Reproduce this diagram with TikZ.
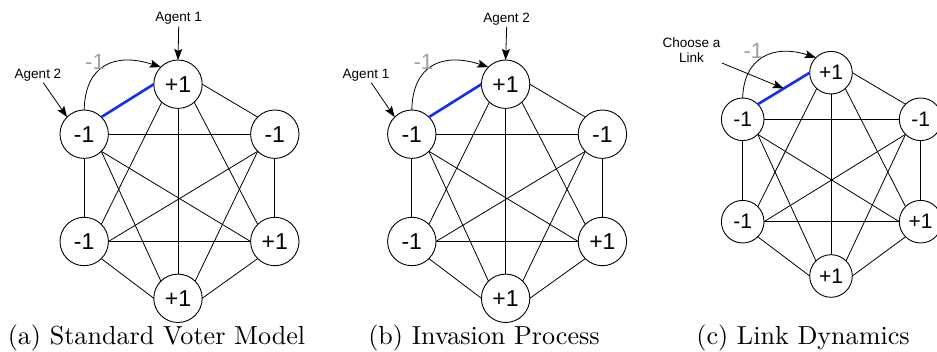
\documentclass[tikz,border=0pt]{standalone}
\usepackage{fontspec}
\usepackage{graphicx}
\usetikzlibrary{arrows.meta}
\newfontfamily\labelfont{Liberation Sans}
\definecolor{linkblue}{RGB}{20,45,250}
\definecolor{flipgray}{RGB}{160,160,160}

\tikzset{
  vnode/.style={circle, draw, line width=0.9pt, minimum size=48.4pt, inner sep=0pt,
    outer sep=0pt, font=\labelfont\fontsize{23}{23}\selectfont},
  vnodesm/.style={vnode, minimum size=42.6pt, font=\labelfont\fontsize{21}{21}\selectfont},
  edge/.style={line width=0.8pt},
  chosen/.style={line width=2.6pt, draw=linkblue},
  note/.style={font=\labelfont\fontsize{13.5}{15}\selectfont, inner sep=1.5pt, align=center},
  pointer/.style={line width=0.8pt, -{Stealth[length=11pt,width=8pt,inset=2pt]}},
  flip/.style={font=\labelfont\fontsize{22}{22}\selectfont, text=flipgray, inner sep=0pt},
  caption/.style={anchor=base, inner sep=0pt},
}

% complete graph on six voters: prefix, x left/centre/right, y top/upper/lower/bottom, node style
\newcommand\hexpanel[9]{%
  \node[#9] (#1T) at (#3,#5) {+1};
  \node[#9] (#1L) at (#2,#6) {-1};
  \node[#9] (#1R) at (#4,#6) {-1};
  \node[#9] (#1P) at (#2,#7) {-1};
  \node[#9] (#1Q) at (#4,#7) {+1};
  \node[#9] (#1B) at (#3,#8) {+1};
  \draw[edge] (#1T.east) -- (#1R.135);
  \draw[edge] (#1T.228) -- (#1P.45);
  \draw[edge] (#1T.312) -- (#1Q.135);
  \draw[edge] (#1T.south) -- (#1B.north);
  \draw[edge] (#1L.east) -- (#1R.west);
  \draw[edge] (#1L.south) -- (#1P.north);
  \draw[edge] (#1L.-45) -- (#1Q.west);
  \draw[edge] (#1L.-45) -- (#1B.135);
  \draw[edge] (#1R.225) -- (#1P.east);
  \draw[edge] (#1R.south) -- (#1Q.north);
  \draw[edge] (#1R.225) -- (#1B.45);
  \draw[edge] (#1P.east) -- (#1Q.west);
  \draw[edge] (#1P.-45) -- (#1B.west);
  \draw[edge] (#1Q.225) -- (#1B.east);
  \draw[chosen] (#1L.45) -- coordinate (#1mid) (#1T.west);
}

\begin{document}
\begin{tikzpicture}[x=1pt,y=-1pt]
  \useasboundingbox (0,0) rectangle (937,352);
  \clip (0,0) rectangle (937,352);

  % (a) standard voter model
  \hexpanel{a}{84.2}{178}{274.8}{84.2}{134.2}{241.5}{298.3}{vnode}
  \node[note] (a1) at (178.7,18.7) {Agent 1};
  \node[note] (a2) at (38,75) {Agent 2};
  \draw[pointer] (a1.south) -- (aT.north);
  \draw[pointer] (a2) -- (aL.135);
  \draw[pointer] (aL.north) .. controls +(0.8,-45) and +(-46,-15) .. (aT.135);
  \node[flip] (af) at (95,61.7) {-1};
  \node[caption] (acap) at (156.5,345) {\scalebox{2.61}{\fontsize{10}{12}\selectfont (a) Standard Voter Model}};

  % (b) invasion process
  \hexpanel{b}{411.8}{505.6}{602.4}{84.2}{134.2}{241.5}{298.3}{vnode}
  \node[note] (b2) at (506.7,18.7) {Agent 2};
  \node[note] (b1) at (366,75) {Agent 1};
  \draw[pointer] (b2.south) -- (bT.north);
  \draw[pointer] (b1) -- (bL.135);
  \draw[pointer] (bL.north) .. controls +(0.8,-45) and +(-46,-15) .. (bT.135);
  \node[flip] (bf) at (423.3,61.7) {-1};
  \node[caption] (bcap) at (484,345) {\scalebox{2.61}{\fontsize{10}{12}\selectfont (b) Invasion Process}};

  % (c) link dynamics
  \hexpanel{c}{742.7}{831}{920.6}{72.7}{119.3}{221.7}{276}{vnodesm}
  \node[note] (choose) at (691.5,50.5) {Choose a\\Link};
  \draw[pointer] (choose) -- (cmid);
  \draw[pointer] (cL.north) .. controls +(0.8,-40) and +(-43,-14) .. (cT.135);
  \node[flip] (cf) at (753.3,51.3) {-1};
  \node[caption] (ccap) at (803,345) {\scalebox{2.61}{\fontsize{10}{12}\selectfont (c) Link Dynamics}};
\end{tikzpicture}
\end{document}
